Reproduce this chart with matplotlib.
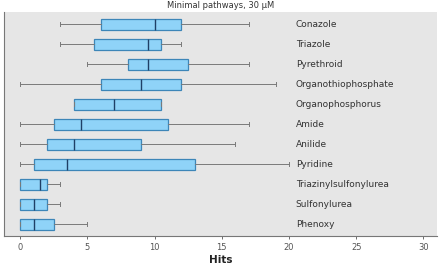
import matplotlib.pyplot as plt

# Classes chimiques, de haut en bas
classes = ['Conazole', 'Triazole', 'Pyrethroid', 'Organothiophosphate',
           'Organophosphorus', 'Amide', 'Anilide', 'Pyridine',
           'Triazinylsulfonylurea', 'Sulfonylurea', 'Phenoxy']
whislo = [3, 3, 5, 0, 4, 0, 0, 0, 0, 0, 0]
q1 = [6, 5.5, 8, 6, 4, 2.5, 2, 1, 0, 0, 0]
med = [10, 9.5, 9.5, 9, 7, 4.5, 4, 3.5, 1.5, 1, 1]
q3 = [12, 10.5, 12.5, 12, 10.5, 11, 9, 13, 2, 2, 2.5]
whishi = [17, 12, 17, 19, 10.5, 17, 16, 20, 3, 3, 5]
xticks = [0, 5, 10, 15, 20, 25, 30]

plt.rcParams['font.family'] = ['Liberation Sans Narrow', 'DejaVu Sans']

fig = plt.figure(figsize=(4.43, 2.68), dpi=100)
ax = fig.add_axes([0.009, 0.119, 0.977, 0.836])
ax.set_facecolor('#e6e6e6')

stats = []
for i, c in enumerate(classes):
    stats.append({'label': c, 'whislo': whislo[i], 'q1': q1[i], 'med': med[i],
                  'q3': q3[i], 'whishi': whishi[i], 'fliers': []})

pos = list(range(len(classes)))
ax.bxp(stats, positions=pos, vert=False, widths=0.55, patch_artist=True,
       showfliers=False,
       boxprops=dict(facecolor='#8fd3f8', edgecolor='#3d86b8', linewidth=0.9),
       medianprops=dict(color='#1f3f66', linewidth=1.0),
       whiskerprops=dict(color='#7a7a7a', linewidth=0.7),
       capprops=dict(color='#7a7a7a', linewidth=0.7), capwidths=0.2)

for i, c in enumerate(classes):
    ax.text(20.5, i, c, va='center', ha='left', fontsize=6.5, color='#333333')

ax.set_ylim(10.6, -0.6)
ax.set_xlim(-1.2, 31.0)
ax.set_yticks([])
ax.set_xticks(xticks)
ax.tick_params(axis='x', labelsize=6, length=2, width=0.6, colors='#555555', pad=3)
for s in ['top', 'right']:
    ax.spines[s].set_visible(False)
for s in ['left', 'bottom']:
    ax.spines[s].set_color('#777777')
    ax.spines[s].set_linewidth(0.8)
ax.set_xlabel('Hits', fontsize=7.5, fontweight='bold', labelpad=2, color='#222222')
ax.set_title('Minimal pathways, 30 µM', fontsize=6, pad=3, color='#333333')

fig.savefig('out.png', dpi=100)
